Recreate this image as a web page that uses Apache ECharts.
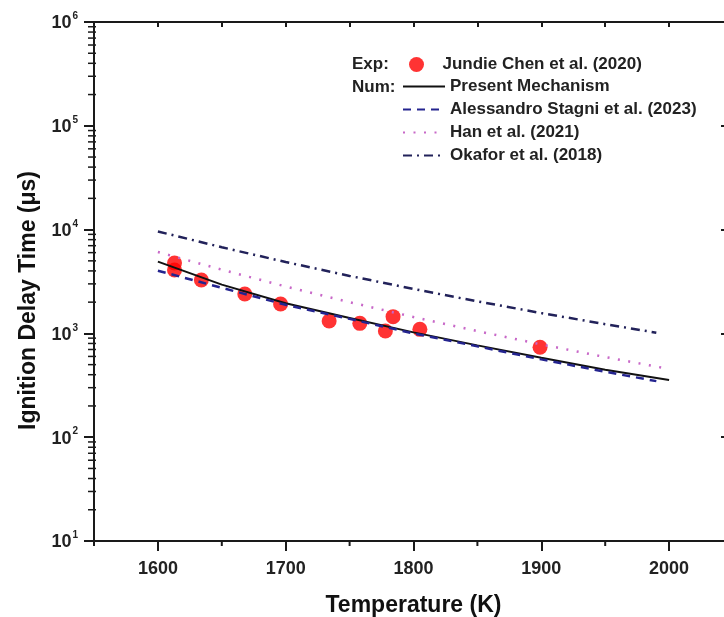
<!DOCTYPE html>
<html>
<head>
<meta charset="utf-8">
<script src="https://cdn.jsdelivr.net/npm/echarts@6/dist/echarts.min.js"></script>
<style>
  html, body { margin: 0; padding: 0; background: #fff; }
  #chart { width: 724px; height: 617px; }
</style>
</head>
<body>
<div id="chart"></div>
<script>
const FONT = 'Liberation Sans, Arial, sans-serif';
const INK = '#1a1a1a';

// experimental points (Jundie Chen et al. 2020)
const expT   = [1613, 1613, 1634, 1668, 1696, 1734, 1758, 1778, 1784, 1805, 1899];
const expTau = [4770, 4080, 3270, 2400, 1920, 1315, 1250, 1055, 1450, 1094, 735];

// model curves
const numT       = [1600, 1650, 1700, 1750, 1800, 1850, 1900, 1950, 2000];
const presentTau = [4910, 2950, 1950, 1410, 1023, 767, 582, 447, 356];
const hanTau     = [6080, 4110, 2830, 2000, 1438, 1052, 783, 592, 454];
const shortT     = [1600, 1650, 1700, 1750, 1800, 1850, 1900, 1950, 1990];
const stagniTau  = [4020, 2750, 1885, 1380, 1000, 750, 562, 427, 347];
const okaforTau  = [9600, 6760, 4870, 3580, 2680, 2035, 1570, 1227, 1016];

// ticks
const xLabelTicks = [1600, 1700, 1800, 1900, 2000];
const xMinorTicks = [1550, 1650, 1750, 1850, 1950, 2050];
const yDecades    = [10, 100, 1000, 10000, 100000, 1000000];
const yMinorMult  = [2, 3, 4, 5, 6, 7, 8, 9];

const zip = (xs, ys) => xs.map((x, i) => [x, ys[i]]);

const chart = echarts.init(document.getElementById('chart'));

const axisLine = { show: true, lineStyle: { color: INK, width: 2 } };
const tickStyle = { color: INK, width: 2 };
const legendText = { fontFamily: FONT, fontSize: 17, fontWeight: 'bold', color: '#222' };

chart.setOption({
  animation: false,
  backgroundColor: '#fff',
  grid: { left: 94, top: 22, width: 639, height: 519, containLabel: false, outerBoundsMode: 'none' },
  xAxis: [
    {
      type: 'value', min: 1550, max: 2050, position: 'bottom',
      axisLine: axisLine,
      axisTick: { show: true, customValues: xLabelTicks, length: 10, lineStyle: tickStyle },
      axisLabel: {
        customValues: xLabelTicks, margin: 19, formatter: v => String(v),
        fontFamily: FONT, fontSize: 18, fontWeight: 'bold', color: '#222'
      },
      splitLine: { show: false },
      name: 'Temperature (K)', nameLocation: 'middle', nameGap: 53,
      nameTextStyle: { fontFamily: FONT, fontSize: 23, fontWeight: 'bold', color: '#111' }
    },
    {
      type: 'value', min: 1550, max: 2050, interval: 50, position: 'top',
      axisLine: axisLine,
      axisTick: { show: true, inside: true, length: 5, lineStyle: tickStyle },
      axisLabel: { show: false },
      splitLine: { show: false }
    }
  ],
  yAxis: [
    {
      type: 'log', logBase: 10, min: 10, max: 1000000, position: 'left',
      axisLine: axisLine,
      axisTick: { show: true, length: 10, lineStyle: tickStyle },
      axisLabel: {
        margin: 16,
        formatter: v => '{b|10}{s|' + Math.round(Math.log10(v)) + '}',
        rich: {
          b: { fontFamily: FONT, fontSize: 18, fontWeight: 'bold', color: '#222', padding: [3, 0, 0, 0] },
          s: { fontFamily: FONT, fontSize: 10, fontWeight: 'bold', color: '#222', verticalAlign: 'top', padding: [0, 0, 10, 1] }
        }
      },
      splitLine: { show: false },
      name: 'Ignition Delay Time (\u03bcs)', nameLocation: 'middle', nameGap: 50,
      nameTextStyle: { fontFamily: FONT, fontSize: 23, fontWeight: 'bold', color: '#111', padding: [0, 38, 0, 0] }
    },
    {
      type: 'log', logBase: 10, min: 10, max: 1000000, position: 'right',
      axisLine: axisLine,
      axisTick: { show: true, inside: true, length: 12, lineStyle: tickStyle },
      axisLabel: { show: false },
      splitLine: { show: false }
    }
  ],
  legend: [
    {
      data: [{ name: 'Jundie Chen et al. (2020)', icon: 'circle' }],
      left: 409, top: 56, padding: 0, itemWidth: 42, itemHeight: 15,
      selectedMode: false, textStyle: legendText
    },
    {
      data: ['Present Mechanism', 'Alessandro Stagni et al. (2023)', 'Han et al. (2021)', 'Okafor et al. (2018)'],
      orient: 'vertical', left: 402, top: 78, padding: 0, itemWidth: 42, itemHeight: 14, itemGap: 6,
      itemStyle: { opacity: 0 },
      selectedMode: false, textStyle: legendText
    }
  ],
  graphic: [
    { type: 'text', x: 352, y: 64, style: { text: 'Exp:', font: 'bold 17px ' + FONT, fill: '#222', verticalAlign: 'middle' } },
    { type: 'text', x: 352, y: 87, style: { text: 'Num:', font: 'bold 17px ' + FONT, fill: '#222', verticalAlign: 'middle' } }
  ],
  series: [
    {
      name: 'Jundie Chen et al. (2020)', type: 'scatter', data: zip(expT, expTau),
      symbol: 'circle', symbolSize: 15, itemStyle: { color: '#ff0000' }
    },
    {
      name: 'Present Mechanism', type: 'line', data: zip(numT, presentTau),
      showSymbol: false, symbol: 'none', lineStyle: { color: '#111', width: 2, type: 'solid' }
    },
    {
      name: 'Alessandro Stagni et al. (2023)', type: 'line', data: zip(shortT, stagniTau),
      showSymbol: false, symbol: 'none', lineStyle: { color: '#24248f', width: 2.5, type: [8, 6] }
    },
    {
      name: 'Han et al. (2021)', type: 'line', data: zip(numT, hanTau),
      showSymbol: false, symbol: 'none', lineStyle: { color: '#c868c8', width: 2.5, type: [2, 8.5] }
    },
    {
      name: 'Okafor et al. (2018)', type: 'line', data: zip(shortT, okaforTau),
      showSymbol: false, symbol: 'none', lineStyle: { color: '#22225a', width: 2.5, type: [9, 5, 2, 5] }
    }
  ]
});

// minor ticks placed through the axes' own scales
const extra = [];
const axisX = chart.convertToPixel({ xAxisIndex: 0 }, 1550);
const baseY = chart.convertToPixel({ yAxisIndex: 0 }, 10);
xMinorTicks.forEach(v => {
  const px = chart.convertToPixel({ xAxisIndex: 0 }, v);
  extra.push({ type: 'line', shape: { x1: px, y1: baseY, x2: px, y2: baseY + 5 }, style: { stroke: INK, lineWidth: 2 } });
});
yDecades.slice(0, -1).forEach(d => {
  yMinorMult.forEach(m => {
    const py = chart.convertToPixel({ yAxisIndex: 0 }, d * m);
    extra.push({ type: 'line', shape: { x1: axisX - 6, y1: py, x2: axisX + 2, y2: py }, style: { stroke: INK, lineWidth: 1.5 } });
  });
});
const opt = chart.getOption();
chart.setOption({ graphic: opt.graphic[0].elements.concat(extra) });
</script>
</body>
</html>
